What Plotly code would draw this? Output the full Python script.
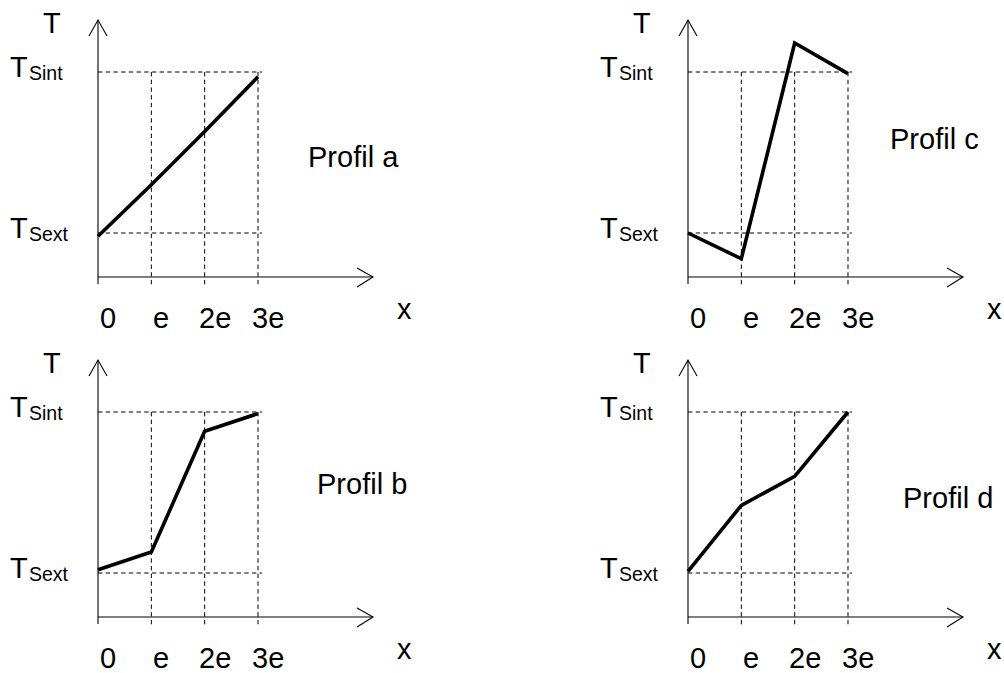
import plotly.graph_objects as go

# ---- data ----
x_pos = [0, 1, 2, 3]
x_labels = ["0", "e", "2e", "3e"]
T_ext = 0.0
T_int = 1.0
profil_names = ["Profil a", "Profil b", "Profil c", "Profil d"]
profil_a = [-0.02, 0.30, 0.63, 0.97]
profil_b = [0.02, 0.13, 0.88, 0.99]
profil_c = [0.0, -0.16, 1.18, 0.99]
profil_d = [0.01, 0.42, 0.60, 1.0]

W, H = 1004, 673
FONT = "Liberation Sans, Arial, sans-serif"
FS = 29
SUB = 19.5

# panel geometry (pixels)
PX_E = 53.33      # pixels per e
PX_T = 161.0      # pixels per (T_int - T_ext)
AX0 = 98          # y-axis x offset within panel
LV0 = 233         # T_ext pixel offset within panel
PW, PH = 414, 333

panels = [
    dict(ox=0, oy=0, vals=profil_a, name=profil_names[0], lab=(353, 157)),
    dict(ox=0, oy=340, vals=profil_b, name=profil_names[1], lab=(362, 484)),
    dict(ox=590, oy=0, vals=profil_c, name=profil_names[2], lab=(934, 139)),
    dict(ox=590, oy=340, vals=profil_d, name=profil_names[3], lab=(948, 498)),
]

fig = go.Figure()
shapes = []
annotations = []


def paper(px, py):
    return px / W, 1 - py / H


def txt(s, px, py, xanchor="center", size=None):
    fx, fy = paper(px, py)
    a = dict(text=s, x=fx, y=fy, xref="paper", yref="paper",
             showarrow=False, xanchor=xanchor, yanchor="middle")
    if size:
        a["font"] = dict(size=size)
    annotations.append(a)


for i, p in enumerate(panels):
    k = "" if i == 0 else str(i + 1)
    xa, ya = "x" + k, "y" + k
    ox, oy = p["ox"], p["oy"]

    def dx(px):
        return (px - AX0) / PX_E

    def dv(py):
        return (LV0 - py) / PX_T

    fig.add_trace(go.Scatter(
        x=x_pos, y=p["vals"], mode="lines",
        line=dict(color="black", width=3.6),
        xaxis=xa, yaxis=ya, showlegend=False, hoverinfo="skip"))

    xd = [ox / W, (ox + PW) / W]
    yd = [1 - (oy + PH) / H, 1 - oy / H]
    fig.layout["xaxis" + k] = dict(domain=xd, range=[dx(0), dx(PW)], visible=False,
                                   fixedrange=True)
    fig.layout["yaxis" + k] = dict(domain=yd, range=[dv(PH), dv(0)], visible=False,
                                   fixedrange=True)

    ln = dict(color="black", width=1.1)
    dash = dict(color="black", width=1, dash="4.4px,3.3px")
    # axes
    shapes.append(dict(type="line", xref=xa, yref=ya, x0=0, x1=0, y0=dv(284), y1=dv(20), line=ln))
    shapes.append(dict(type="line", xref=xa, yref=ya, x0=0, x1=dx(373), y0=dv(277), y1=dv(277), line=ln))
    # arrow heads
    shapes.append(dict(type="path", xref=xa, yref=ya, line=ln,
                       path=f"M {dx(89)},{dv(36)} L 0,{dv(20)} L {dx(107)},{dv(36)}"))
    shapes.append(dict(type="path", xref=xa, yref=ya, line=ln,
                       path=f"M {dx(357)},{dv(268)} L {dx(373)},{dv(277)} L {dx(357)},{dv(287)}"))
    # dashed reference lines
    for lvl in (T_int, T_ext):
        shapes.append(dict(type="line", xref=xa, yref=ya, x0=0, x1=x_pos[-1] + 0.075,
                           y0=lvl, y1=lvl, line=dash))
    for xv in x_pos[1:]:
        shapes.append(dict(type="line", xref=xa, yref=ya, x0=xv, x1=xv,
                           y0=T_int, y1=dv(287), line=dash))

    # texts
    txt("T", ox + 52, oy + 23)
    txt("x", ox + 404, oy + 309)
    for xv, lab in zip(x_pos, x_labels):
        txt(lab, ox + AX0 + xv * PX_E + 10, oy + 318)
    for lvl, sub in ((T_int, "Sint"), (T_ext, "Sext")):
        py = LV0 - lvl * PX_T
        txt("T", ox + 8, oy + py - 5, xanchor="left")
        txt(sub, ox + 27, oy + py + 0.5, xanchor="left", size=SUB)
    txt(p["name"], *p["lab"])

fig.update_layout(
    width=W, height=H, margin=dict(l=0, r=0, t=0, b=0),
    paper_bgcolor="white", plot_bgcolor="white",
    font=dict(family=FONT, size=FS, color="black"),
    shapes=shapes, annotations=annotations, showlegend=False,
)

fig.write_html("out.html", config={"displayModeBar": False},
               post_script="document.body.style.margin='0';")
